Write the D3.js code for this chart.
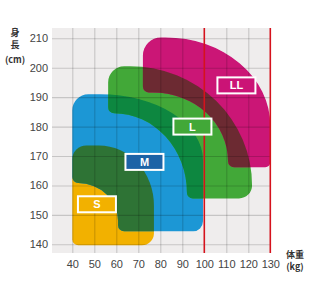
<!DOCTYPE html>
<html>
<head>
<meta charset="utf-8">
<script src="https://cdn.jsdelivr.net/npm/d3@7"></script>
<style>
  body { margin: 0; background: #fff; }
  svg { display: block; font-family: "Liberation Sans", Arial, sans-serif; }
  .ticks text { fill: #444; font-size: 11px; }
  .title { font-family: "Noto Sans CJK JP", sans-serif; font-weight: bold; font-size: 9px; fill: #333; }
  .tag text { fill: #fff; font-weight: bold; font-size: 11px; }
</style>
</head>
<body>
<div id="chart"></div>
<script>
// size bands: weight (kg) and height (cm) ranges
const sizes = ["S", "M", "L", "LL"];
const weightMin = [40, 40, 56.3, 72.1];
const weightMax = [77.1, 99.4, 121.7, 130];
const heightMin = [139.7, 144.4, 155.6, 166.2];
const heightMax = [173.6, 191, 200.5, 210.3];
// inner corner of each band (where the right arm starts / left arm ends)
const armWeight = [null, 60.8, 92.1, 110.8];
const armHeight = [null, 160.8, 184.5, 191.6];

// label anchors
const labelKg = [51.2, 72.8, 94.6, 114.6];
const labelCm = [153.6, 168, 180, 194];

const weightTicks = [40, 50, 60, 70, 80, 90, 100, 110, 120, 130];
const heightTicks = [140, 150, 160, 170, 180, 190, 200, 210];
const limitLines = [100, 130];

// drawing styles
const fills = ["#f2b100", "#1b97d5", "#42a838", "#cb1376"];
const tagFills = ["#f2b100", "#1c63a6", "#42a838", "#cb1376"];
const radii = [
  { tl: 14, trx: 55, try: 60, br: 12, bl: 6 },
  { tl: 16, trx: 103, try: 66, br: 10, s: 6, irx: 40, iry: 38 },
  { tl: 16, trx: 122, try: 119, br: 13, s: 6, irx: 79, iry: 80 },
  { tl: 18, trx: 105, try: 88, br: 5, s: 6, irx: 75, iry: 70 }
];

const width = 320, height = 290;
const plot = { left: 52, top: 28, bottom: 253 };

const x = d3.scaleLinear().domain([40, 130]).range([72.3, 270.3]);
const y = d3.scaleLinear().domain([140, 210]).range([244.3, 38.3]);

const svg = d3.select("#chart").append("svg")
  .attr("width", width).attr("height", height);

const defs = svg.append("defs");
defs.append("filter").attr("id", "soft")
  .append("feGaussianBlur").attr("stdDeviation", 0.6);

function bandPath(i) {
  const r = radii[i];
  const X0 = x(weightMin[i]), X1 = x(weightMax[i]);
  const YT = y(heightMax[i]), YB = y(heightMin[i]);
  const hasArm = armWeight[i] != null;
  const XI = hasArm ? x(armWeight[i]) : 0;
  const YI = hasArm ? y(armHeight[i]) : 0;
  let d = hasArm ? `M${X0},${YI - r.s}` : `M${X0},${YB - r.bl}`;
  d += `L${X0},${YT + r.tl}A${r.tl},${r.tl} 0 0 1 ${X0 + r.tl},${YT}`;
  d += `L${X1 - r.trx},${YT}A${r.trx},${r.try} 0 0 1 ${X1},${YT + r.try}`;
  d += `L${X1},${YB - r.br}A${r.br},${r.br} 0 0 1 ${X1 - r.br},${YB}`;
  if (!hasArm) {
    d += `L${X0 + r.bl},${YB}A${r.bl},${r.bl} 0 0 1 ${X0},${YB - r.bl}Z`;
  } else {
    const iry = Math.min(r.iry, YB - YI - r.s);
    const irx = Math.min(r.irx, XI - X0 - r.s);
    d += `L${XI + r.s},${YB}A${r.s},${r.s} 0 0 1 ${XI},${YB - r.s}`;
    d += `L${XI},${YI + iry}A${irx},${iry} 0 0 0 ${XI - irx},${YI}`;
    d += `L${X0 + r.s},${YI}A${r.s},${r.s} 0 0 1 ${X0},${YI - r.s}Z`;
  }
  return d;
}

// plot background
svg.append("rect")
  .attr("x", plot.left).attr("y", plot.top)
  .attr("width", x(130) - plot.left).attr("height", plot.bottom - plot.top)
  .attr("fill", "#efeded");

sizes.forEach((s, i) => {
  defs.append("clipPath").attr("id", "clip-" + s)
    .append("path").attr("d", bandPath(i));
});

const groupBands = svg.append("g").attr("class", "bands").attr("filter", "url(#soft)");

groupBands.selectAll(".band")
  .data(sizes)
  .enter()
  .append("path")
  .attr("class", "band")
  .attr("d", (d, i) => bandPath(i))
  .attr("fill", (d, i) => fills[i]);

// overlaps: [band drawn, clipped by, colour]
const overlaps = [[1, "S", "#2e7336"], [2, "M", "#0b8741"], [3, "L", "#6c2c30"]];
groupBands.selectAll(".overlap")
  .data(overlaps)
  .enter()
  .append("path")
  .attr("class", "overlap")
  .attr("d", d => bandPath(d[0]))
  .attr("clip-path", d => `url(#clip-${d[1]})`)
  .attr("fill", d => d[2]);

// grid on top of bands
const grid = svg.append("g").attr("class", "grid");
grid.append("g")
  .attr("transform", `translate(0,${plot.bottom})`)
  .call(d3.axisBottom(x).tickValues(weightTicks.filter(v => !limitLines.includes(v)))
    .tickSize(-(plot.bottom - plot.top)).tickFormat(""));
grid.append("g")
  .attr("transform", `translate(${plot.left},0)`)
  .call(d3.axisLeft(y).tickValues(heightTicks)
    .tickSize(-(x(130) - plot.left)).tickFormat(""));
grid.selectAll(".domain").remove();
grid.selectAll("line").attr("stroke", "#000").attr("stroke-opacity", 0.17).attr("stroke-width", 1.1);

svg.selectAll(".limit")
  .data(limitLines)
  .enter()
  .append("line")
  .attr("class", "limit")
  .attr("x1", d => x(d)).attr("x2", d => x(d))
  .attr("y1", plot.top).attr("y2", plot.bottom)
  .attr("stroke", "#d5121d").attr("stroke-width", 1.6);

// size tags
const tags = svg.selectAll(".tag")
  .data(sizes)
  .enter()
  .append("g")
  .attr("class", "tag")
  .attr("transform", (d, i) => `translate(${x(labelKg[i])},${y(labelCm[i])})`);
tags.append("rect")
  .attr("x", -19).attr("y", -8).attr("width", 38).attr("height", 16)
  .attr("fill", (d, i) => tagFills[i])
  .attr("stroke", "#fff").attr("stroke-width", 2);
tags.append("text")
  .attr("text-anchor", "middle").attr("dy", "0.36em")
  .text(d => d);

// tick labels
const xTicks = svg.append("g").attr("class", "ticks")
  .attr("transform", `translate(0,${plot.bottom})`)
  .call(d3.axisBottom(x).tickValues(weightTicks).tickSize(0).tickPadding(7));
const yTicks = svg.append("g").attr("class", "ticks")
  .attr("transform", `translate(${plot.left},0)`)
  .call(d3.axisLeft(y).tickValues(heightTicks).tickSize(0).tickPadding(4));
svg.selectAll(".ticks .domain").remove();
svg.selectAll(".ticks text").attr("font-family", null);

// axis titles
svg.append("text").attr("class", "title").attr("x", 15).attr("y", 36).attr("text-anchor", "middle").text("身");
svg.append("text").attr("class", "title").attr("x", 15).attr("y", 48).attr("text-anchor", "middle").text("長");
svg.append("text").attr("class", "title").attr("x", 15).attr("y", 63).attr("text-anchor", "middle").text("(cm)");
svg.append("text").attr("class", "title").attr("x", 295).attr("y", 258).attr("text-anchor", "middle").text("体重");
svg.append("text").attr("class", "title").attr("x", 295).attr("y", 270).attr("text-anchor", "middle").text("(kg)");
</script>
</body>
</html>
